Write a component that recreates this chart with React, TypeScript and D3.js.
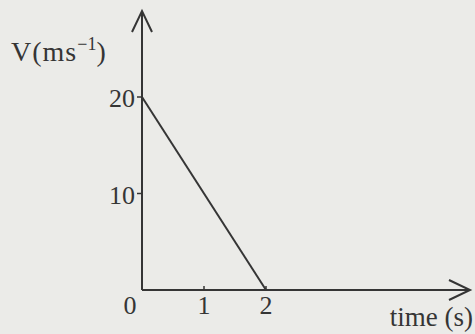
import React, { useEffect, useRef } from "react";
import * as d3 from "d3";

const times = [0, 2];
const speeds = [20, 0];
const xTicks = [0, 1, 2];
const yTicks = [10, 20];

export default function App() {
  const ref = useRef<SVGSVGElement>(null);

  useEffect(() => {
    const width = 475, height = 334;
    const svg = d3.select(ref.current);
    svg.selectAll("*").remove();

    svg.append("rect").attr("width", width).attr("height", height).attr("fill", "#ebebe8");

    const x = d3.scaleLinear().domain([0, 2]).range([142, 266]);
    const y = d3.scaleLinear().domain([0, 20]).range([290, 97]);
    const ink = "#353535";
    const font = "'Liberation Serif', 'DejaVu Serif', serif";
    const fs = 26;

    // axes with arrow heads
    svg.append("line").attr("x1", x(0)).attr("x2", x(0)).attr("y1", y(0)).attr("y2", 11)
      .attr("stroke", ink).attr("stroke-width", 2);
    svg.append("path").attr("d", `M${x(0) - 10},${32} L${x(0)},${11} L${x(0) + 10},${32}`)
      .attr("fill", "none").attr("stroke", ink).attr("stroke-width", 2);
    svg.append("line").attr("x1", x(0)).attr("x2", 470).attr("y1", y(0)).attr("y2", y(0))
      .attr("stroke", ink).attr("stroke-width", 2);
    svg.append("path").attr("d", `M${449},${y(0) - 10} L${470},${y(0)} L${449},${y(0) + 10}`)
      .attr("fill", "none").attr("stroke", ink).attr("stroke-width", 2);

    // y ticks
    const yt = svg.append("g");
    yt.selectAll("line").data(yTicks).join("line")
      .attr("x1", x(0) - 5).attr("x2", x(0)).attr("y1", d => y(d)).attr("y2", d => y(d))
      .attr("stroke", ink).attr("stroke-width", 1.5);
    yt.selectAll("text").data(yTicks).join("text")
      .attr("x", x(0) - 7).attr("y", d => y(d) + 10)
      .attr("text-anchor", "end").attr("font-family", font).attr("font-size", fs).attr("fill", ink)
      .text(d => d);

    // x ticks
    const xt = svg.append("g");
    xt.selectAll("line").data(xTicks.filter(d => d > 0)).join("line")
      .attr("x1", d => x(d)).attr("x2", d => x(d)).attr("y1", y(0) - 4).attr("y2", y(0))
      .attr("stroke", ink).attr("stroke-width", 1.5);
    xt.selectAll("text").data(xTicks).join("text")
      .attr("x", d => (d === 0 ? x(d) - 12 : x(d))).attr("y", 314)
      .attr("text-anchor", "middle").attr("font-family", font).attr("font-size", fs).attr("fill", ink)
      .text(d => d);

    // axis labels
    const vl = svg.append("text").attr("x", 11).attr("y", 61)
      .attr("font-family", font).attr("font-size", 28).attr("letter-spacing", 1).attr("fill", ink);
    vl.append("tspan").text("V(ms");
    vl.append("tspan").attr("dy", -11).attr("font-size", 18).attr("letter-spacing", 0).text("−1");
    vl.append("tspan").attr("dy", 11).text(")");
    svg.append("text").attr("x", 473).attr("y", 326).attr("text-anchor", "end")
      .attr("font-family", font).attr("font-size", 27).attr("fill", ink).text("time (s)");

    // velocity line
    const line = d3.line<number>().x((_, i) => x(times[i])).y(d => y(d));
    svg.append("path").datum(speeds).attr("d", line)
      .attr("fill", "none").attr("stroke", ink).attr("stroke-width", 2);
  }, []);

  return (
    <svg ref={ref} width={475} height={334}
      style={{ position: "absolute", left: 0, top: 0, display: "block" }} />
  );
}
